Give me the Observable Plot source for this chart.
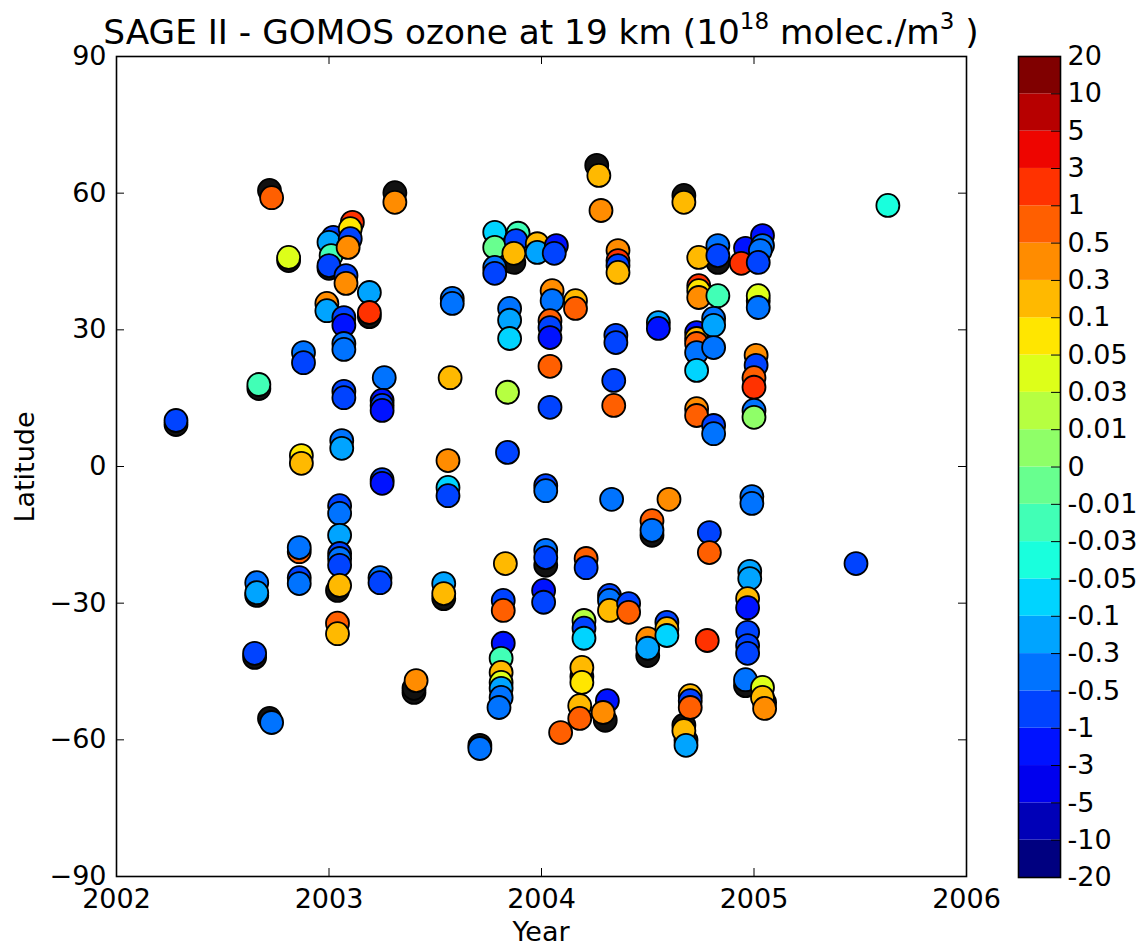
<!DOCTYPE html>
<html>
<head>
<meta charset="utf-8">
<script src="https://cdn.jsdelivr.net/npm/d3@7"></script>
<script src="https://cdn.jsdelivr.net/npm/@observablehq/plot@0.6"></script>
<style>
  body { margin: 0; background: #fff; }
  #wrap { position: relative; width: 1143px; height: 947px; font-family: "DejaVu Sans", sans-serif; color: #000; overflow: hidden; }
  .abs { position: absolute; white-space: nowrap; line-height: 1; }
  .abs svg { overflow: visible; }
</style>
</head>
<body>
<div id="wrap"></div>
<script>
// ---------------- data ----------------
const titleText = "SAGE II - GOMOS ozone at 19 km";
const xLabel = "Year";
const yLabel = "Latitude";
const xTicks = [2002, 2003, 2004, 2005, 2006];
const yTicks = [-90, -60, -30, 0, 30, 60, 90];
// colour-bar boundaries (bottom to top)
const cbTicks = [-20, -10, -5, -3, -1, -0.5, -0.3, -0.1, -0.05, -0.03, -0.01, 0, 0.01, 0.03, 0.05, 0.1, 0.3, 0.5, 1, 3, 5, 10, 20];

// measurement points: year, latitude, difference value
const years = [
  2002.28, 2002.73, 2002.67, 2002.66, 2002.66, 2002.65, 2002.73, 2002.81, 2002.88, 2002.88,
  2002.87, 2002.87, 2002.86, 2002.86, 2002.86, 2002.86, 2003.02, 2003.00, 2003.01, 2003.00,
  2002.99, 2002.99, 2003.11, 2003.10, 2003.10, 2003.09, 2003.08, 2003.08, 2003.19, 2003.19,
  2003.07, 2003.07, 2003.07, 2003.07, 2003.26, 2003.07, 2003.07, 2003.25, 2003.25, 2003.25,
  2003.06, 2003.06, 2003.25, 2003.25, 2003.05, 2003.05, 2003.05, 2003.05, 2003.05, 2003.05,
  2003.05, 2003.04, 2003.04, 2003.24, 2003.24, 2003.31, 2003.41, 2003.58, 2003.58, 2003.57,
  2003.56, 2003.56, 2003.56, 2003.54, 2003.54, 2003.78, 2003.78, 2003.78, 2003.78, 2003.89,
  2003.88, 2003.87, 2003.98, 2003.98, 2004.07, 2004.06, 2003.85, 2003.85, 2003.85, 2003.84,
  2003.84, 2003.83, 2003.82, 2003.82, 2003.82, 2003.81, 2003.81, 2003.81, 2003.81, 2003.81,
  2003.80, 2003.71, 2004.05, 2004.05, 2004.04, 2004.04, 2004.04, 2004.04, 2004.04, 2004.02,
  2004.02, 2004.02, 2004.02, 2004.01, 2004.01, 2004.16, 2004.16, 2004.09, 2004.21, 2004.21,
  2004.20, 2004.20, 2004.20, 2004.19, 2004.19, 2004.18, 2004.18, 2004.27, 2004.28, 2004.32,
  2004.32, 2004.32, 2004.31, 2004.29, 2004.36, 2004.36, 2004.36, 2004.36, 2004.35, 2004.35,
  2004.34, 2004.34, 2004.33, 2004.41, 2004.41, 2004.55, 2004.55, 2004.52, 2004.52, 2004.50,
  2004.50, 2004.60, 2004.59, 2004.59, 2004.59, 2004.67, 2004.70, 2004.70, 2004.70, 2004.67,
  2004.68, 2004.74, 2004.74, 2004.74, 2004.74, 2004.73, 2004.73, 2004.73, 2004.73, 2004.73,
  2004.73, 2004.73, 2004.78, 2004.83, 2004.83, 2004.83, 2004.81, 2004.81, 2004.81, 2004.81,
  2004.81, 2004.79, 2004.79, 2004.96, 2004.94, 2005.04, 2005.04, 2005.03, 2005.02, 2005.02,
  2005.02, 2005.01, 2005.01, 2005.00, 2005.00, 2005.00, 2005.00, 2004.99, 2004.99, 2004.98,
  2004.98, 2004.97, 2004.97, 2004.97, 2004.97, 2004.97, 2004.96, 2005.04, 2005.04, 2005.05,
  2005.48, 2005.63
];
const lats = [
  10.1, 59.0, 18.0, -25.5, -27.7, -41.0, -56.2, 45.9, 25.0, 22.8,
  2.4, 0.7, -18.7, -17.8, -24.4, -25.7, 50.3, 49.2, 46.3, 44.1,
  35.8, 34.2, 53.6, 52.2, 50.0, 48.1, 41.9, 40.2, 38.2, 33.8,
  32.7, 31.0, 27.0, 25.7, 19.5, 16.5, 15.1, 14.5, 13.4, 12.3,
  5.7, 4.0, -2.9, -3.7, -8.6, -10.3, -15.1, -19.1, -20.2, -21.7,
  -26.1, -34.4, -36.7, -24.4, -25.5, 58.0, -47.0, 36.9, 35.8, 19.5,
  1.3, -4.6, -6.4, -25.7, -27.9, 51.4, 48.1, 43.7, 42.4, 51.2,
  49.6, 46.8, 48.9, 47.0, 48.5, 46.8, 34.7, 32.1, 28.1, 16.3,
  3.1, -21.3, -29.4, -31.6, -38.8, -42.1, -45.2, -47.4, -48.7, -50.7,
  -52.9, -61.9, 38.6, 36.4, 32.0, 30.5, 28.3, 22.0, 13.0, -4.2,
  -5.3, -18.4, -20.0, -27.2, -29.8, 36.4, 34.7, -58.4, -20.2, -22.2,
  -33.8, -35.5, -37.7, -44.1, -47.4, -52.5, -55.3, 63.9, 56.2, -28.3,
  -29.4, -31.6, -51.4, -54.0, 47.4, 45.2, 44.1, 42.6, 28.8, 27.2,
  18.9, 13.4, -7.2, -30.1, -32.0, 31.6, 30.3, -11.9, -14.0, -37.8,
  -39.9, -7.2, -34.2, -35.6, -37.1, 58.0, -50.3, -51.4, -52.9, -58.0,
  -61.2, 45.9, 39.7, 38.6, 37.1, 29.4, 28.1, 27.0, 25.0, 21.1,
  12.7, 11.2, -38.2, 48.5, 46.3, 37.5, 32.5, 31.0, 26.1, 9.0,
  7.2, -14.5, -18.9, 47.9, 44.6, 50.7, 48.5, 47.4, 44.8, 37.5,
  34.9, 24.4, 22.2, 19.5, 17.4, 12.3, 10.8, -6.6, -8.1, -23.0,
  -24.6, -29.0, -31.0, -36.4, -39.3, -41.0, -46.8, -48.5, -50.7, -53.1,
  -21.3, 57.3
];
const values = [
  -0.7, 0.7, -0.02, -0.4, -0.2, -0.7, -0.4, 0.04, -0.4, -0.7,
  0.07, 0.2, 0.7, -0.4, -0.7, -0.4, -0.7, -0.2, -0.02, -0.7,
  0.4, -0.2, 2, 0.07, -0.7, 0.4, -0.7, 0.4, -0.2, 2,
  -0.7, -2, -0.4, -0.4, -0.4, -0.7, -0.7, -2, -0.7, -2,
  -0.4, -0.2, -0.7, -2, -0.7, -0.4, -0.2, -0.7, -0.4, -0.7,
  0.2, 0.7, 0.2, -0.4, -0.7, 0.4, 0.4, -0.4, -0.4, 0.2,
  0.4, -0.07, -0.7, -0.2, 0.2, -0.07, -0.005, -0.4, -0.7, -0.02,
  -0.7, 0.2, 0.2, -0.2, -2, -0.7, -0.4, -0.2, -0.07, 0.02,
  -0.7, 0.2, -0.7, 0.7, -2, -0.02, 0.2, 0.04, -0.2, -0.4,
  -0.4, -0.4, 0.4, -0.4, 0.7, -0.7, -2, 0.7, -0.7, -0.7,
  -0.4, -0.4, -0.7, -2, -0.7, 0.2, 0.7, 0.7, 0.7, -0.7,
  0.02, -0.7, -0.07, 0.2, 0.07, 0.2, 0.7, 0.2, 0.4, -0.7,
  -0.4, 0.2, -2, 0.4, 0.4, 2, -0.7, 0.2, -0.7, -0.7,
  -0.7, 0.7, -0.4, -0.7, 0.7, -0.2, -2, 0.7, -0.4, 0.4,
  -0.2, 0.4, -0.7, 0.2, -0.07, 0.2, 0.2, -0.7, 0.7, 0.2,
  -0.2, 0.2, 2, 0.07, 0.4, -2, 0.2, 0.7, -0.4, -0.07,
  0.4, 0.7, 2, -0.4, -0.7, -0.02, -0.4, -0.2, -0.4, -0.7,
  -0.4, -0.7, 0.7, -2, 2, -2, -0.4, -0.4, -0.7, 0.04,
  -0.4, 0.4, -0.7, 0.7, 2, -0.4, 0.005, -0.4, -0.4, -0.2,
  -0.2, 0.2, -2, -0.7, -0.7, -0.7, -0.4, 0.04, 0.2, 0.4,
  -0.7, -0.04
];
// densely stacked points whose colour is hidden under black edges
const stackYears = [
  2002.28, 2002.72, 2002.67, 2002.66, 2002.65, 2002.72, 2002.81, 2003.00, 2003.19, 2003.04,
  2003.31, 2003.40, 2003.40, 2003.54, 2003.87, 2003.71, 2004.02, 2004.19, 2004.26, 2004.30,
  2004.52, 2004.50, 2004.67, 2004.67, 2004.68, 2004.83, 2005.02, 2004.96, 2005.05
];
const stackLats = [
  9.2, 60.6, 17.1, -28.3, -41.9, -55.3, 45.2, 43.5, 32.9, -27.2,
  60.1, -49.6, -48.7, -29.0, 44.8, -61.2, -21.7, -46.1, 66.1, -55.7,
  -15.1, -41.5, 59.5, -56.8, -60.1, 44.8, 36.4, -48.1, -51.8
];

// ---------------- jet colormap ----------------
const jetR = d3.scaleLinear([0, 0.35, 0.66, 0.89, 1], [0, 0, 1, 1, 0.5]).clamp(true);
const jetG = d3.scaleLinear([0, 0.125, 0.375, 0.64, 0.91, 1], [0, 0, 1, 1, 0, 0]).clamp(true);
const jetB = d3.scaleLinear([0, 0.11, 0.34, 0.65, 1], [0.5, 1, 1, 0, 0]).clamp(true);
const jet = t => d3.rgb(jetR(t) * 255, jetG(t) * 255, jetB(t) * 255).formatHex();
const nBins = cbTicks.length - 1;
const binColors = d3.range(nBins).map(i => jet(i / (nBins - 1)));
const colorScale = {type: "threshold", domain: cbTicks.slice(1, -1), range: binColors};

// ---------------- layout ----------------
const wrap = document.getElementById("wrap");
const W = 1000, H = 947, mL = 116, mR = 34, mT = 56, mB = 71;
const plotW = W - mL - mR, plotH = H - mT - mB;
const tick = 8;
const fontCss = {fontFamily: "DejaVu Sans", fontSize: "27px", background: "transparent", color: "black"};

const idx = d3.range(years.length);
const sidx = d3.range(stackYears.length);

const main = Plot.plot({
  width: W, height: H,
  marginLeft: mL, marginRight: mR, marginTop: mT, marginBottom: mB,
  style: fontCss,
  x: {domain: [xTicks[0], xTicks[xTicks.length - 1]]},
  y: {domain: [yTicks[0], yTicks[yTicks.length - 1]]},
  color: colorScale,
  marks: [
    Plot.axisX({ticks: xTicks, tickFormat: d => String(d), tickSize: 0, tickPadding: 12, label: null}),
    Plot.axisY({ticks: yTicks, tickFormat: d => d < 0 ? "\u2212" + (-d) : String(d), tickSize: 0, tickPadding: 10, label: null}),
    Plot.tickX(xTicks, {x: d => d, insetBottom: plotH - tick, stroke: "black", strokeWidth: 1}),
    Plot.tickX(xTicks, {x: d => d, insetTop: plotH - tick, stroke: "black", strokeWidth: 1}),
    Plot.tickY(yTicks, {y: d => d, insetRight: plotW - tick, stroke: "black", strokeWidth: 1}),
    Plot.tickY(yTicks, {y: d => d, insetLeft: plotW - tick, stroke: "black", strokeWidth: 1}),
    Plot.dot(sidx, {x: i => stackYears[i], y: i => stackLats[i], r: 11.5, fill: "#111", stroke: "black", strokeWidth: 1.8}),
    Plot.dot(idx, {x: i => years[i], y: i => lats[i], fill: i => values[i], r: 11.5, stroke: "black", strokeWidth: 1.8}),
    Plot.frame({stroke: "black", strokeWidth: 1.6})
  ]
});
const mainBox = document.createElement("div");
mainBox.className = "abs";
mainBox.style.left = "0px"; mainBox.style.top = "0px";
mainBox.appendChild(main);
wrap.appendChild(mainBox);

// colour bar
const cbW = 143, cbL = 18, cbR = 83;
const cbPlotW = cbW - cbL - cbR;
const bins = d3.range(nBins);
const bar = Plot.plot({
  width: cbW, height: H,
  marginLeft: cbL, marginRight: cbR, marginTop: mT, marginBottom: mB - 1,
  style: fontCss,
  x: {domain: [0, 1], axis: null},
  y: {domain: [0, nBins]},
  color: colorScale,
  marks: [
    Plot.rect(bins, {x1: 0, x2: 1, y1: i => i, y2: i => i + 1, fill: i => cbTicks[i]}),
    Plot.tickY(d3.range(1, nBins), {y: d => d, insetLeft: cbPlotW - 9, stroke: "black", strokeWidth: 1}),
    Plot.axisY({anchor: "right", ticks: d3.range(cbTicks.length), tickFormat: i => String(cbTicks[i]), tickSize: 0, tickPadding: 7, label: null}),
    Plot.frame({stroke: "black", strokeWidth: 1.6})
  ]
});
const barBox = document.createElement("div");
barBox.className = "abs";
barBox.style.left = "1000px"; barBox.style.top = "0px";
barBox.appendChild(bar);
wrap.appendChild(barBox);

// title
const title = document.createElement("div");
title.className = "abs";
title.style.left = "0px"; title.style.width = "1082px"; title.style.textAlign = "center";
title.style.top = "15px"; title.style.fontSize = "34.3px";
title.innerHTML = titleText + " (10<span style=\"font-size:23px;position:relative;top:-15px\">18</span> molec./m<span style=\"font-size:23px;position:relative;top:-15px\">3</span> )";
wrap.appendChild(title);

// axis labels
const xl = document.createElement("div");
xl.className = "abs";
xl.style.left = "0px"; xl.style.width = "1082px"; xl.style.textAlign = "center";
xl.style.top = "918px"; xl.style.fontSize = "27px";
xl.textContent = xLabel;
wrap.appendChild(xl);

const yl = document.createElement("div");
yl.className = "abs";
yl.style.left = "24px"; yl.style.top = "467px"; yl.style.fontSize = "27px";
yl.style.transform = "translate(-50%, -50%) rotate(-90deg)";
yl.textContent = yLabel;
wrap.appendChild(yl);
</script>
</body>
</html>
